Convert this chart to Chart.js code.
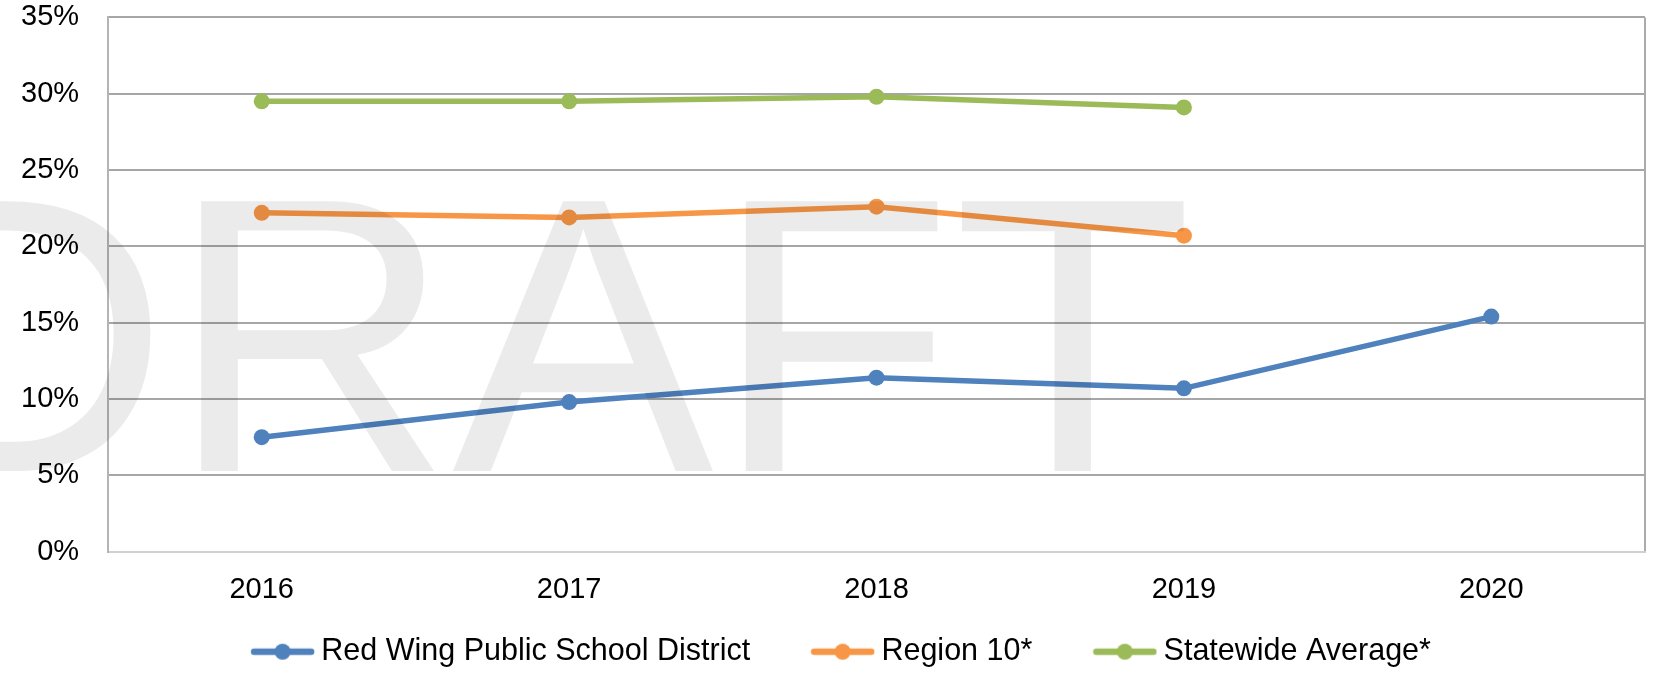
<!DOCTYPE html>
<html>
<head>
<meta charset="utf-8">
<script src="https://cdn.jsdelivr.net/npm/chart.js@4"></script>
<style>
    html, body { margin: 0; padding: 0; background: #fff; }
    #wrap { width: 1653px; height: 677px; }
</style>
</head>
<body>
<div id="wrap"><canvas id="tasaChart"></canvas></div>
<script>
// Datos
const anios = ['2016', '2017', '2018', '2019', '2020'];
const redWing = [7.5, 9.8, 11.4, 10.7, 15.4];
const region10 = [22.2, 21.9, 22.6, 20.7, null];
const estatal = [29.5, 29.5, 29.8, 29.1, null];
const etiquetasSeries = ['Red Wing Public School District', 'Region 10*', 'Statewide Average*'];
const colores = ['#4F81BD', '#F79646', '#9BBB59'];

const fuente = '"Liberation Sans", Arial, sans-serif';

// Marcador de la leyenda: línea con punto al centro (con espacio libre a la izquierda)
function marcadorLeyenda(color) {
    const c = document.createElement('canvas');
    c.width = 124;
    c.height = 18;
    const g = c.getContext('2d');
    const x0 = 124 - 65;
    g.strokeStyle = color;
    g.lineWidth = 6.5;
    g.lineCap = 'round';
    g.beginPath();
    g.moveTo(x0 + 4, 9);
    g.lineTo(x0 + 61, 9);
    g.stroke();
    g.fillStyle = color;
    g.beginPath();
    g.arc(x0 + 32.5, 9, 8, 0, Math.PI * 2);
    g.fill();
    return c;
}

// Marca de agua "DRAFT" encima de todo, semitransparente
const marcaAgua = {
    id: 'marcaAgua',
    afterLayout(chart) {
        // correr un poco la leyenda a la izquierda
        chart.legend.left -= 19;
        chart.legend.right -= 19;
    },
    afterDraw(chart) {
        const ctx = chart.ctx;
        ctx.save();
        ctx.font = '392px ' + fuente;
        ctx.fillStyle = 'rgba(0, 0, 0, 0.08)';
        ctx.textBaseline = 'alphabetic';
        ctx.fillText('DRAFT', -114, 471);
        ctx.restore();
    }
};

const series = [redWing, region10, estatal];
const ctx = document.getElementById('tasaChart').getContext('2d');
const tasaChart = new Chart(ctx, {
    type: 'line',
    data: {
        labels: anios,
        datasets: series.map((datos, i) => ({
            label: etiquetasSeries[i],
            data: datos,
            borderColor: colores[i],
            backgroundColor: colores[i],
            borderWidth: 5.5,
            pointRadius: 8,
            pointHoverRadius: 8,
            pointBorderWidth: 0,
            pointStyle: 'circle',
            tension: 0,
            fill: false,
            spanGaps: false
        }))
    },
    options: {
        responsive: true,
        maintainAspectRatio: false,
        animation: false,
        layout: {
            padding: { left: 21, right: 5, top: 0, bottom: 0 }
        },
        plugins: {
            tooltip: { enabled: false },
            legend: {
                position: 'bottom',
                labels: {
                    usePointStyle: true,
                    pointStyleWidth: 106,
                    boxHeight: 18,
                    padding: 10,
                    color: '#000',
                    font: { family: fuente, size: 30.5 },
                    generateLabels(chart) {
                        return chart.data.datasets.map((ds, i) => ({
                            text: ds.label,
                            fillStyle: ds.borderColor,
                            strokeStyle: ds.borderColor,
                            lineWidth: 0,
                            pointStyle: marcadorLeyenda(ds.borderColor),
                            datasetIndex: i,
                            hidden: false
                        }));
                    }
                }
            }
        },
        scales: {
            x: {
                offset: true,
                afterFit(scale) { scale.height += 19; },
                grid: {
                    offset: true,
                    drawTicks: true,
                    tickLength: 21,
                    tickColor: 'rgba(0,0,0,0)',
                    lineWidth: 2,
                    color: (c) => c.type === 'scale' ? '#ABABAB' : 'rgba(0,0,0,0)'
                },
                border: { color: '#D0D0D0', width: 2 },
                ticks: {
                    color: '#000',
                    padding: 0,
                    font: { family: fuente, size: 29 }
                }
            },
            y: {
                min: 0,
                max: 35,
                grid: {
                    color: '#A6A6A6',
                    lineWidth: 2,
                    drawTicks: true,
                    tickLength: 29,
                    tickColor: 'rgba(0,0,0,0)'
                },
                border: { color: '#B4B4B4', width: 2 },
                ticks: {
                    stepSize: 5,
                    padding: 0,
                    color: '#000',
                    font: { family: fuente, size: 29 },
                    callback: (v) => v + '%'
                }
            }
        }
    },
    plugins: [marcaAgua]
});
</script>
</body>
</html>
